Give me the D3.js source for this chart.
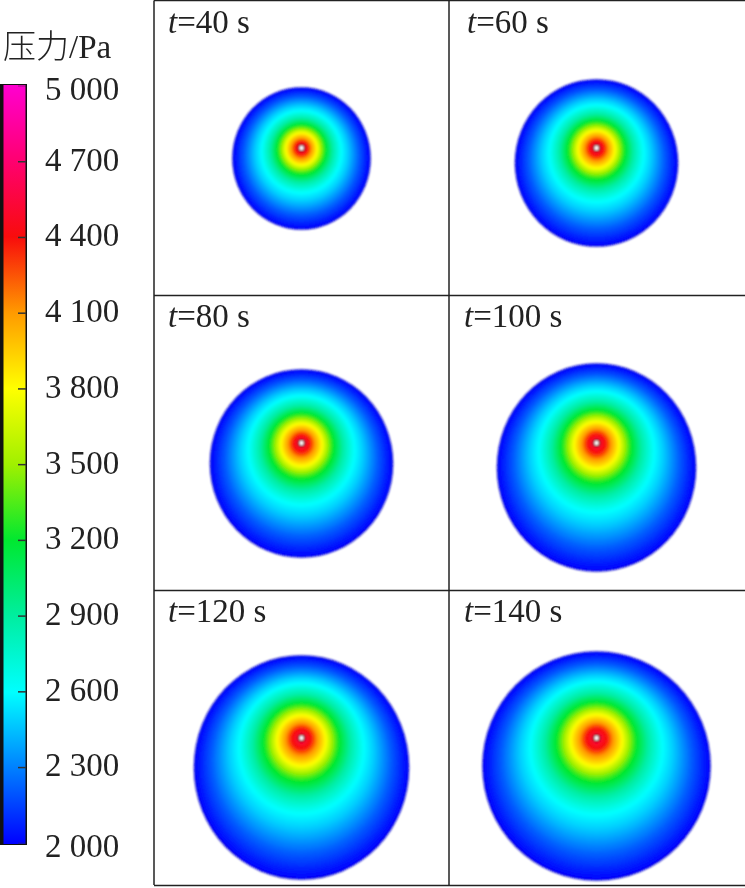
<!DOCTYPE html>
<html><head><meta charset="utf-8">
<script src="https://cdn.jsdelivr.net/npm/d3@7/dist/d3.min.js"></script>
<style>
html,body{margin:0;padding:0;background:#fff}
svg{display:block}
text{font-family:"Liberation Serif",serif;fill:#222}
</style></head><body>
<svg id="c" width="745" height="888"></svg>
<script>
// colour bar
const pressureTicks = [5000,4700,4400,4100,3800,3500,3200,2900,2600,2300,2000];
const barColors = ["#ff00d0","#ff0070","#f80c0c","#ff9a00","#ffff00","#a0f000","#00e830","#00eea0","#00ffff","#0080ff","#0000ff"];
// panels
const times = [40,60,80,100,120,140];
const spreadX = [68.5,81,91,99,107,113.5];
const spreadY = [70.5,83,93.5,103.5,111.5,114];
const centreShift = [10.5,15,20.5,24.5,29.5,28];
// radial pressure profile (fraction of the spread radius -> pressure)
const profileS = [0.03,0.09,0.15,0.23,0.29,0.35,0.46,0.58,0.68,0.84,1];
const profileP = [4550,4400,4100,3800,3500,3230,2880,2610,2480,2220,2000];
const shiftS = [0,0.1,0.33,0.56,0.8,1];
const shiftF = [0,0.03,0.14,0.33,0.7,1];

const svg = d3.select("#c");
const W = 745, left = 154, panelSize = 295;
const colX = d3.scaleBand().domain([0,1]).range([left,left+2*panelSize]);
const rowY = d3.scaleBand().domain([0,1,2]).range([0,3*panelSize]);
const color = d3.scaleLinear().domain(pressureTicks).range(barColors).interpolate(d3.interpolateRgb);
const pOfS = d3.scaleLinear().domain(profileS).range(profileP).clamp(true);
const shiftOfS = d3.scaleLinear().domain(shiftS).range(shiftF);

const defs = svg.append("defs");
defs.append("filter").attr("id","soft").append("feGaussianBlur").attr("stdDeviation",0.8);
defs.append("filter").attr("id","softText").append("feGaussianBlur").attr("stdDeviation",0.35);
const grad = defs.append("linearGradient").attr("id","bar").attr("x1",0).attr("x2",0).attr("y1",0).attr("y2",1);

// colour bar
const yBar = d3.scaleLinear().domain([5000,2000]).range([85.5,842.8]);
grad.selectAll("stop").data(pressureTicks).join("stop")
  .attr("offset",d=>(yBar(d)-yBar(5000))/(yBar(2000)-yBar(5000)))
  .attr("stop-color",d=>color(d));
const barG = svg.append("g");
barG.append("rect").attr("x",0).attr("y",84).attr("width",27).attr("height",761).attr("fill","#111");
barG.append("rect").attr("x",3.5).attr("y",85).attr("width",22).attr("height",759).attr("fill","url(#bar)");
const fmt = d=>{const s=String(d);return s[0]+" "+s.slice(1);};
const axis = d3.axisRight(yBar).tickValues(pressureTicks).tickFormat(fmt).tickSize(-8).tickPadding(19);
const ax = svg.append("g").attr("transform","translate(26,0)").call(axis);
ax.select(".domain").remove();
ax.selectAll(".tick line").attr("stroke","#333").attr("stroke-width",1.5).attr("opacity",d=>d===5000||d===2000?0.35:1);
ax.selectAll(".tick text").attr("font-size",33).attr("font-family",'"Liberation Serif",serif').attr("fill","#222")
  .attr("dy",d=>d===5000||d===2000?"0.42em":"0.27em").attr("filter","url(#softText)");
const title = svg.append("text").attr("x",3).attr("y",58).attr("font-size",33).attr("filter","url(#softText)");
title.append("tspan").text("压力").style("font-family",'"Noto Sans CJK SC",serif').style("font-weight",300);
title.append("tspan").text("/Pa").style("font-family",'"Liberation Serif",serif');

// fields
const steps = d3.range(0,180).map(i=>1-i/180);
const panels = times.map((t,i)=>({t,i,col:i%2,row:Math.floor(i/2),rx:spreadX[i],ry:spreadY[i],dy:centreShift[i]}));
const fields = svg.append("g").attr("filter","url(#soft)");
const g = fields.selectAll("g.p").data(panels).join("g").attr("class","p")
  .attr("transform",d=>`translate(${colX(d.col)+panelSize/2},${rowY(d.row)+panelSize/2})`);
g.append("ellipse").attr("cx",0).attr("cy",d=>d.dy+0.5).attr("rx",d=>d.rx+0.8).attr("ry",d=>d.ry+0.8).attr("fill","#1a1ab4");
g.selectAll("ellipse.r").data(d=>steps.map(s=>({s,d}))).join("ellipse").attr("class","r")
  .attr("cx",0)
  .attr("cy",e=>shiftOfS(e.s)*e.d.dy+0.5)
  .attr("rx",e=>e.s*e.d.rx)
  .attr("ry",e=>e.s*e.d.ry)
  .attr("fill",e=>color(pOfS(e.s)));
g.append("circle").attr("r",4).attr("cy",0.5).attr("fill","#8a1020");
g.append("circle").attr("r",2.2).attr("cy",0.5).attr("fill","#fff");

// grid
const lines = svg.append("g").attr("stroke","#222").attr("stroke-width",1.5).attr("fill","none");
lines.selectAll("line.v").data([0,1]).join("line").attr("class","v")
  .attr("x1",d=>colX(d)).attr("x2",d=>colX(d)).attr("y1",0.5).attr("y2",885);
lines.selectAll("line.h").data([0,1,2,3]).join("line").attr("class","h")
  .attr("x1",left).attr("x2",W).attr("y1",d=>d*panelSize+0.5).attr("y2",d=>d*panelSize+0.5);

// labels
const labelX = [168,467,168,464,168,464];
const lab = svg.selectAll("text.l").data(panels).join("text").attr("class","l")
  .attr("x",d=>labelX[d.i]).attr("y",d=>rowY(d.row)+ (d.row==0?33:31.5))
  .attr("font-size",33).attr("filter","url(#softText)");
lab.append("tspan").attr("font-style","italic").text("t");
lab.append("tspan").text(d=>`=${d.t} s`);
</script>
</body></html>
